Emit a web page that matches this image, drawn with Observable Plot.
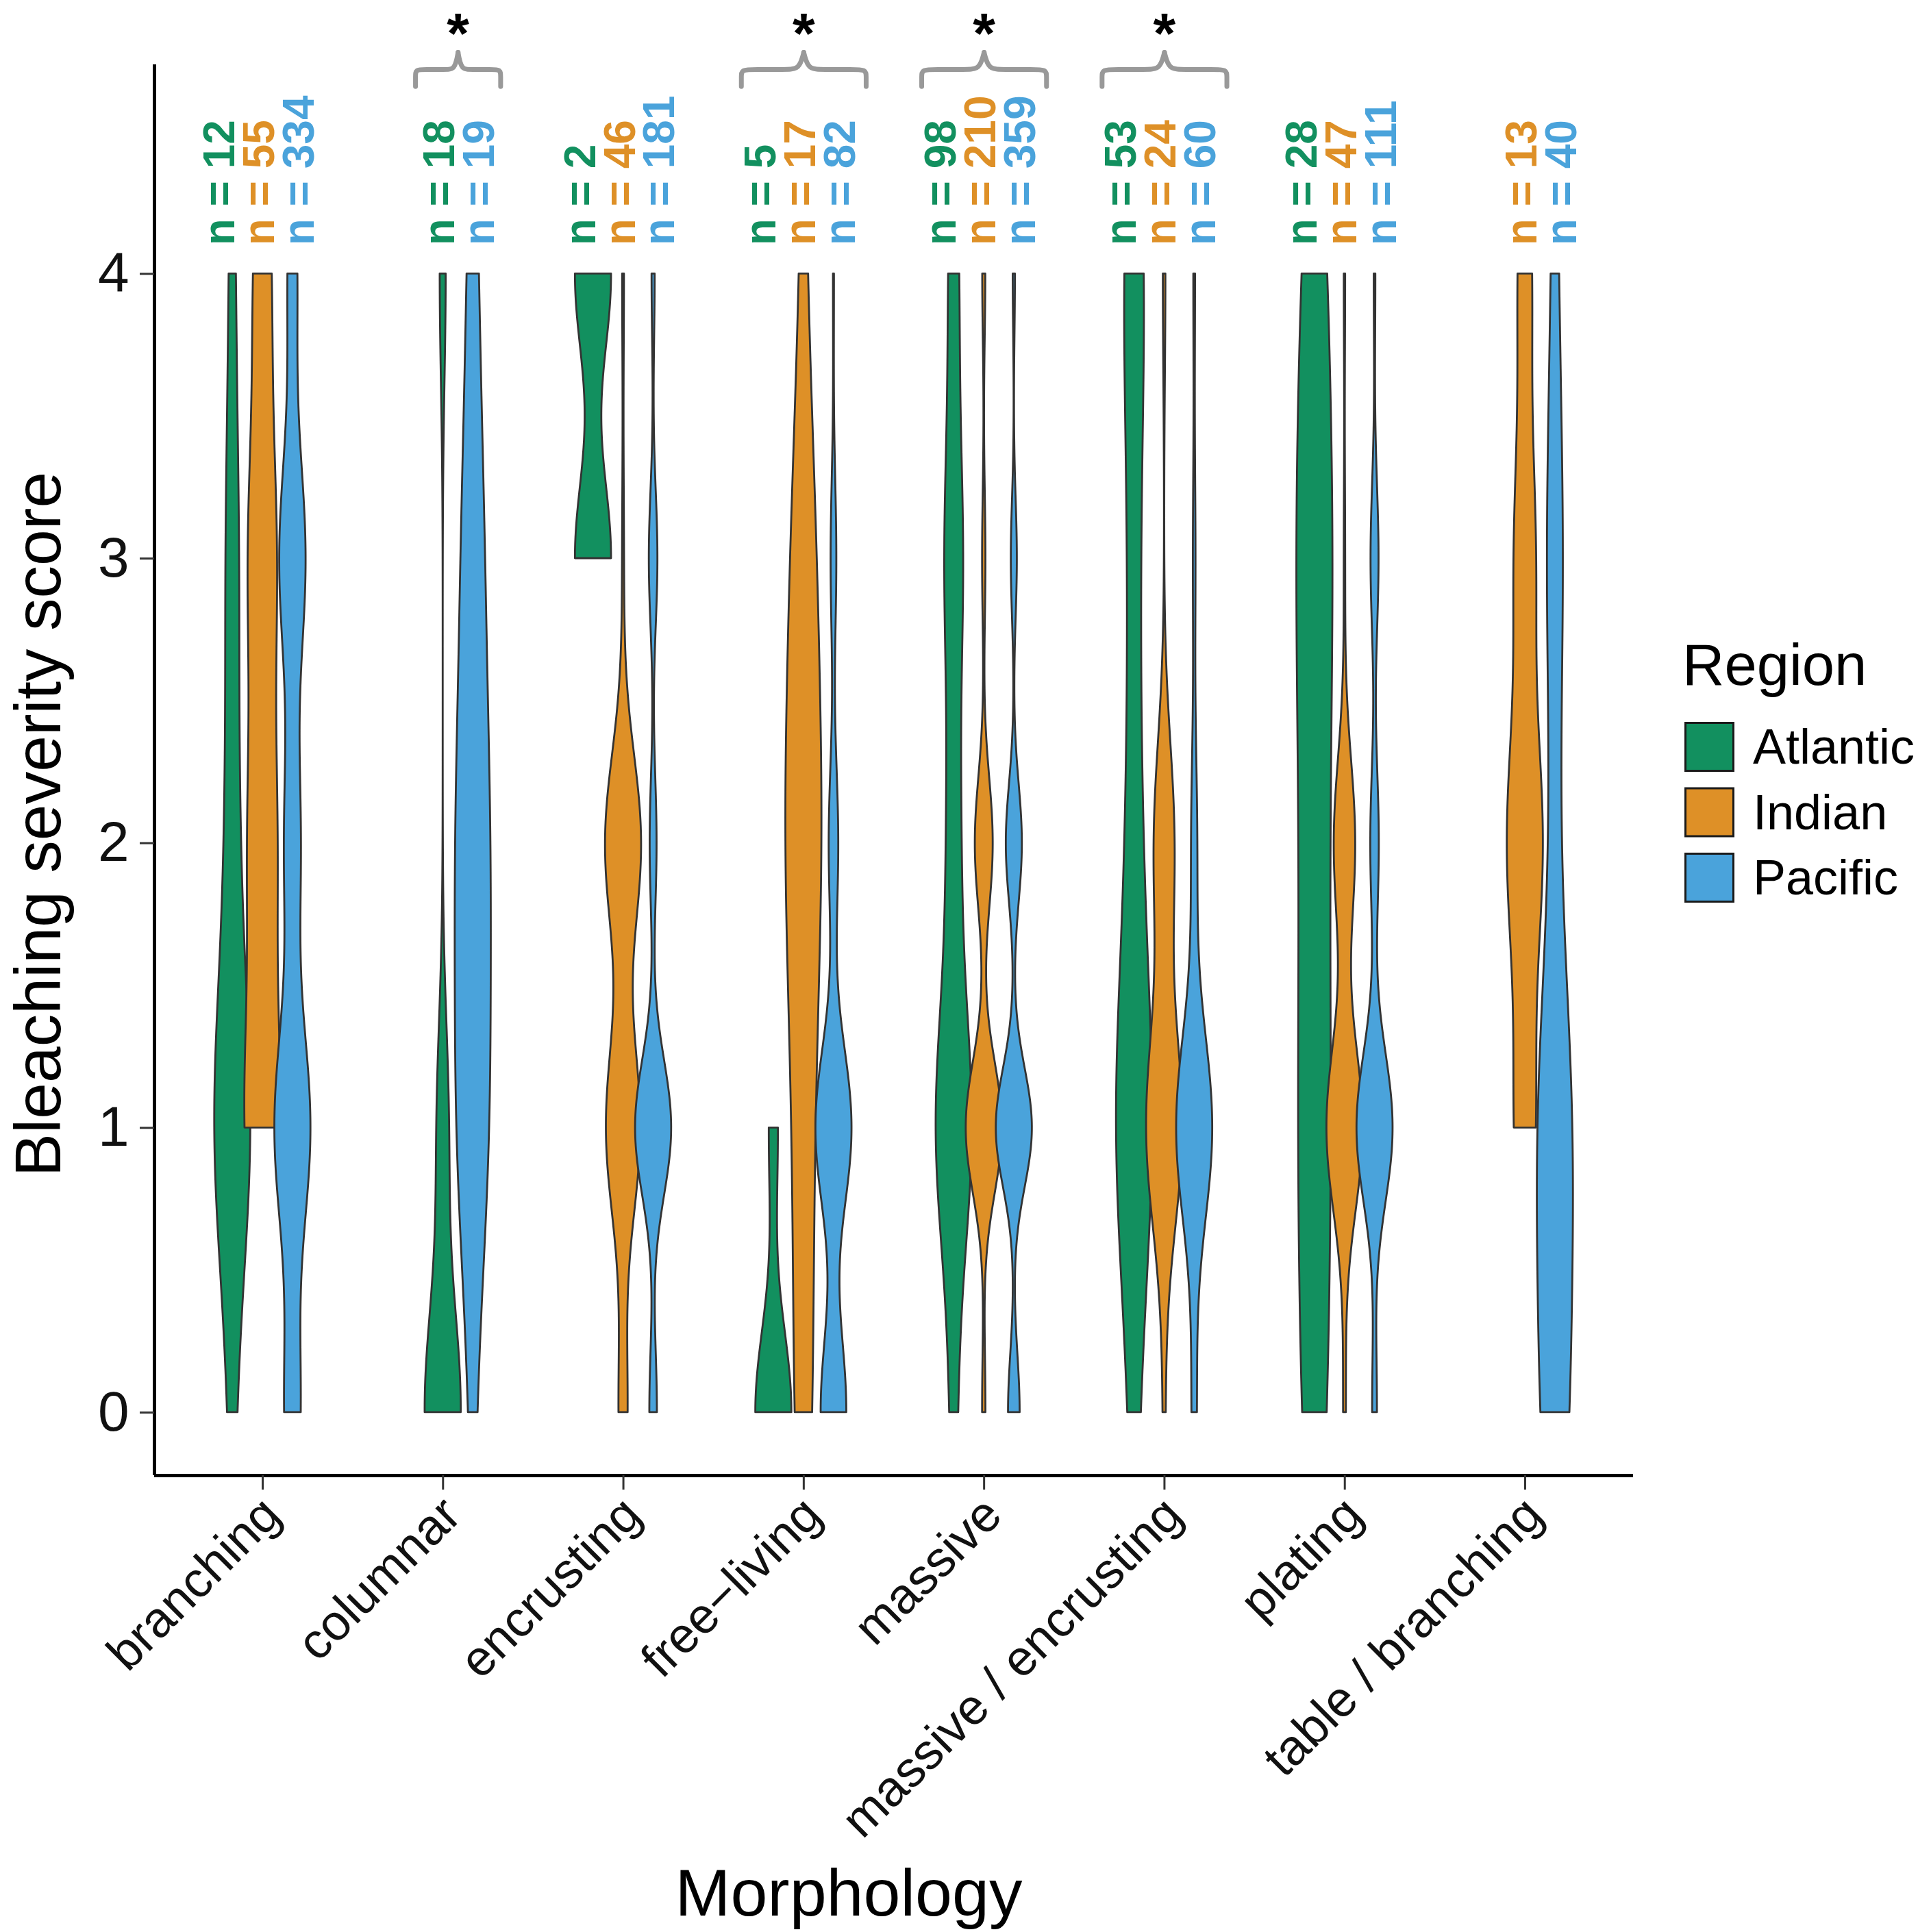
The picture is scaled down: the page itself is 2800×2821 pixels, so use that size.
<!DOCTYPE html>
<html><head><meta charset="utf-8">
<script src="https://cdn.jsdelivr.net/npm/d3@7"></script>
<script src="https://cdn.jsdelivr.net/npm/@observablehq/plot@0.6"></script>
<style>
html,body{margin:0;padding:0;background:#fff;}
#chart{position:relative;width:2800px;height:2821px;overflow:hidden;}
</style></head><body><div id="chart"></div>
<script>
// ---------------- data ----------------
const morphologies = ["branching","columnar","encrusting","free\u2212living","massive","massive / encrusting","plating","table / branching"];
const regions = ["Atlantic","Indian","Pacific"];
const regionColors = ["#12905F","#DE9027","#4AA3DB"];
const scores = [0,1,2,3,4];
const yTicks = [0,1,2,3,4];
// colonies per bleaching score 0..4 (one row per morphology, null = region not sampled)
const atlanticCounts = [[1,6,2,2,1],[12,4,0,0,2],[0,0,0,1,1],[4,1,0,0,0],[8,42,15,21,12],[5,22,8,6,12],[5,6,5,7,5],null];
const indianCounts   = [[0,18,14,14,9],null,[5,19,20,1,1],[3,3,6,4,1],[11,119,59,11,10],[1,14,8,0,1],[2,27,16,1,1],[0,3,5,3,2]];
const pacificCounts  = [[52,115,52,84,31],[1,6,6,4,2],[22,105,20,25,9],[27,38,10,6,1],[58,180,80,30,11],[6,42,7,3,2],[9,68,16,15,3],[12,15,3,7,3]];
const significant = ["columnar","free\u2212living","massive","massive / encrusting"];

// ---------------- layout constants ----------------
const violinDodge = 0.1667, violinHalf = 0.1, labelDodge = 0.22;
const xDomain = [0.4, 8.6], yDomain = [-0.2214, 4.7346];
const countsByRegion = [atlanticCounts, indianCounts, pacificCounts];

function q7(s, p){ const h=(s.length-1)*p, lo=Math.floor(h), hi=Math.min(lo+1,s.length-1); return s[lo]+(h-lo)*(s[hi]-s[lo]); }
function bwNrd0(x){
  const s=x.slice().sort((a,b)=>a-b);
  const hi=d3.deviation(x);
  let lo=Math.min(hi,(q7(s,0.75)-q7(s,0.25))/1.34);
  if(!lo) lo = hi || Math.abs(x[0]) || 1;
  return 0.9*lo*Math.pow(x.length,-0.2);
}

const groups=[];
morphologies.forEach((m,mi)=>{
  const present = regions.map((r,ri)=>countsByRegion[ri][mi]?ri:-1).filter(i=>i>=0);
  const slots = present.length===3?[-1,0,1]:present.length===2?[0,1]:[0];
  present.forEach((ri,k)=>{
    const c=countsByRegion[ri][mi];
    groups.push({morph:m, mi, region:regions[ri], ri, slot:slots[k], counts:c, n:d3.sum(c)});
  });
});

const violinPts=[];
groups.forEach((g,gi)=>{
  const raw=[]; g.counts.forEach((c,s)=>{for(let i=0;i<c;i++) raw.push(scores[s]);});
  const bw=bwNrd0(raw), lo=d3.min(raw), hi=d3.max(raw), N=300;
  const pts=d3.range(N).map(i=>{
    const y=lo+(hi-lo)*i/(N-1);
    let d=0; g.counts.forEach((c,s)=>{ d+=c*Math.exp(-0.5*Math.pow((y-scores[s])/bw,2)); });
    return {y,d};
  });
  const mx=d3.max(pts,p=>p.d);
  const cx=g.mi+1+g.slot*violinDodge;
  pts.forEach(p=>violinPts.push({gid:gi, region:g.region, y:p.y, x1:cx-violinHalf*p.d/mx, x2:cx+violinHalf*p.d/mx}));
});

// braces over significant morphologies (template in brace-relative units)
const braceTemplate=[[-1,0],[-1,0.3],[-1,0.5],[-0.78,0.5],[-0.3,0.5],[-0.1,0.5],[-0.03,0.78],[0,1]];
const braceEnd=4.658, bracePeak=4.778, starY=4.838;
const bracePts=[], stars=[];
significant.forEach((m,si)=>{
  const gs=groups.filter(g=>g.morph===m);
  const mi=morphologies.indexOf(m);
  const center=mi+1+d3.mean(gs,g=>g.slot)*violinDodge;
  const half=0.126+(gs.length-1)*0.11;
  stars.push({center});
  [-1,1].forEach(side=>{
    braceTemplate.forEach(([u,v])=>bracePts.push({id:si+"_"+side, x:center+(side<0?u:-u)*half, y:braceEnd+v*(bracePeak-braceEnd)}));
  });
});

const font="'Liberation Sans', Arial, Helvetica, sans-serif";

const chart=Plot.plot({
  width:2800, height:2821,
  marginLeft:225, marginRight:416, marginTop:94, marginBottom:667,
  style:{fontFamily:font, background:"#fff", color:"#000", overflow:"visible"},
  x:{type:"linear", domain:xDomain},
  y:{domain:yDomain},
  color:{domain:regions, range:regionColors},
  marks:[
    Plot.areaX(violinPts,{y:"y", x1:"x1", x2:"x2", z:"gid", fill:"region", stroke:"#333333", strokeWidth:2.8, strokeLinejoin:"round"}),
    Plot.text(groups,{x:d=>d.mi+1+d.slot*labelDodge, y:()=>4.1, text:d=>`n = ${d.n}`, fill:"region", rotate:-90, textAnchor:"start", lineAnchor:"middle", fontSize:64, fontWeight:"bold", dx:-4}),
    Plot.line(bracePts,{x:"x", y:"y", z:"id", curve:"basis", stroke:"#999999", strokeWidth:7}),
    Plot.text(stars,{x:"center", y:()=>starY, text:()=>"*", fontSize:84, fontWeight:"bold", fill:"#000", lineAnchor:"middle"}),
    Plot.ruleX([xDomain[0]],{stroke:"#000", strokeWidth:5}),
    Plot.ruleY([yDomain[0]],{stroke:"#000", strokeWidth:5}),
    Plot.axisY({ticks:yTicks, tickFormat:d=>String(d), tickSize:21, tickPadding:16, fontSize:82, stroke:"#333", strokeWidth:3, fill:"#111", label:null}),
    Plot.axisX({ticks:d3.range(1,9), tickSize:21, tickFormat:()=>"", stroke:"#333", strokeWidth:3, label:null}),
    Plot.text(morphologies,{x:(d,i)=>i+1, frameAnchor:"bottom", rotate:-45, textAnchor:"end", lineAnchor:"top", fontSize:73, dy:25, dx:-7, fill:"#111"}),
    Plot.text(["Morphology"],{frameAnchor:"bottom", textAnchor:"middle", lineAnchor:"bottom", fontSize:97, dx:-66, dy:642, fill:"#000"}),
    Plot.text(["Bleaching severity score"],{frameAnchor:"left", rotate:-90, textAnchor:"middle", lineAnchor:"bottom", fontSize:95, dx:-138, dy:79, fill:"#000"})
  ]
});
document.getElementById("chart").appendChild(chart);

// legend
const svg=d3.select(chart);
const lg=svg.append("g").attr("font-family",font).attr("fill","#000").attr("text-anchor","start");
lg.append("text").attr("x",2456).attr("y",1000).attr("font-size",85).text("Region");
regions.forEach((r,i)=>{
  lg.append("rect").attr("x",2460.5).attr("y",1055.5+i*95.5).attr("width",70).attr("height",70)
    .attr("fill",regionColors[i]).attr("stroke","#1a1a1a").attr("stroke-width",3);
  lg.append("text").attr("x",2559).attr("y",1115+i*95.5).attr("font-size",72).text(r);
});
</script></body></html>
